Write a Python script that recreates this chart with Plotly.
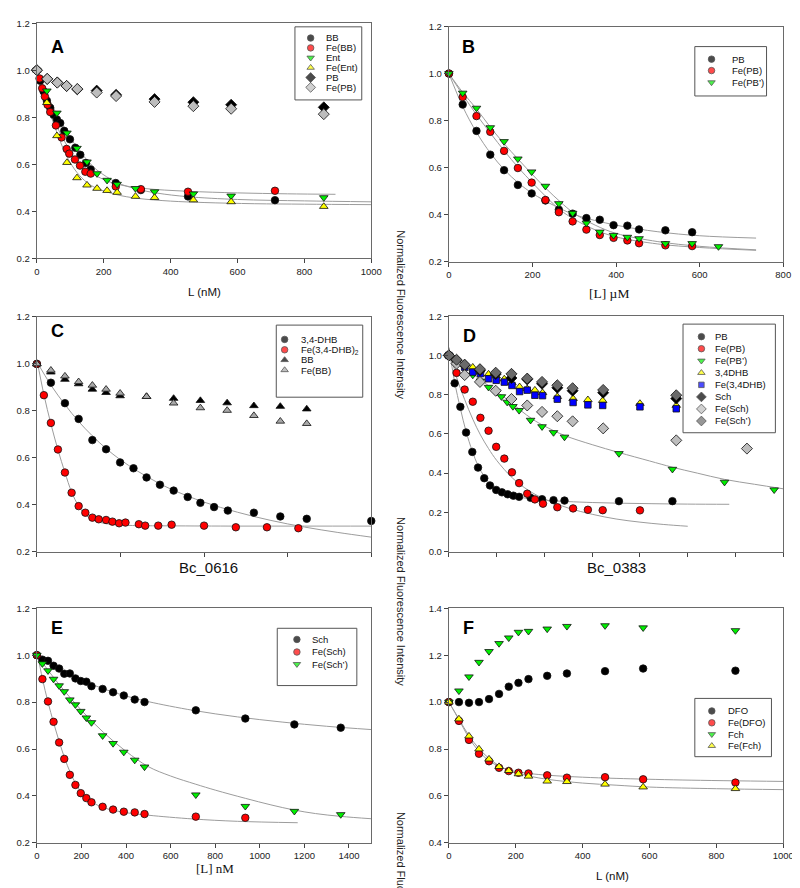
import plotly.graph_objects as go

W, H = 800, 888

# ---------------- Panel A ----------------
a_x_bb = [0, 10, 20, 30, 40, 50, 60, 70, 82, 99, 115, 130, 147, 161, 236, 311, 452, 712]
a_y_bb = [1.0, 0.955, 0.91, 0.87, 0.84, 0.81, 0.79, 0.775, 0.742, 0.706, 0.67, 0.64, 0.605, 0.578, 0.52, 0.49, 0.463, 0.447]
a_x_febb = [0, 8, 16, 24, 32, 40, 57, 74, 89, 97, 114, 129, 145, 161, 236, 311, 452, 712]
a_y_febb = [1.0, 0.965, 0.923, 0.888, 0.853, 0.822, 0.765, 0.714, 0.665, 0.645, 0.62, 0.594, 0.568, 0.56, 0.505, 0.494, 0.483, 0.487]
a_x_ent = [0, 30, 60, 90, 120, 150, 180, 210, 240, 295, 352, 468, 581, 858]
a_y_ent = [1.0, 0.912, 0.818, 0.733, 0.668, 0.61, 0.56, 0.532, 0.515, 0.497, 0.483, 0.474, 0.465, 0.458]
a_y_feent = [1.0, 0.862, 0.721, 0.607, 0.542, 0.511, 0.497, 0.488, 0.48, 0.463, 0.458, 0.448, 0.44, 0.42]
a_x_pb = [0, 31, 61, 89, 121, 179, 237, 352, 468, 581, 858]
a_y_pb = [1.0, 0.963, 0.948, 0.933, 0.919, 0.913, 0.895, 0.877, 0.864, 0.853, 0.842]
a_y_fepb = [1.0, 0.963, 0.947, 0.933, 0.92, 0.905, 0.89, 0.865, 0.847, 0.836, 0.813]

a_fit1_x = [0, 20, 40, 60, 80, 100, 120, 160, 200, 240, 320, 450, 600, 750, 893]
a_fit1_y = [1.0, 0.91, 0.83, 0.76, 0.705, 0.655, 0.615, 0.565, 0.535, 0.515, 0.497, 0.485, 0.478, 0.474, 0.472]
a_fit2_x = [0, 30, 60, 90, 120, 150, 180, 240, 300, 360, 450, 600, 800, 1000]
a_fit2_y = [1.0, 0.9, 0.81, 0.735, 0.672, 0.618, 0.575, 0.522, 0.494, 0.477, 0.462, 0.45, 0.444, 0.44]
a_fit3_x = [0, 30, 60, 90, 120, 150, 180, 240, 300, 400, 500, 650, 800, 1000]
a_fit3_y = [1.0, 0.86, 0.735, 0.632, 0.565, 0.522, 0.497, 0.47, 0.455, 0.443, 0.437, 0.432, 0.43, 0.428]

# ---------------- Panel B ----------------
b_x = [0, 33, 66, 99, 132, 165, 198, 231, 263, 296, 329, 361, 394, 427, 455, 518, 582]
b_y_pb = [1.0, 0.868, 0.756, 0.655, 0.589, 0.526, 0.49, 0.46, 0.421, 0.404, 0.385, 0.378, 0.355, 0.353, 0.337, 0.333, 0.325]
b_y_fepb = [1.0, 0.9, 0.819, 0.752, 0.671, 0.598, 0.536, 0.462, 0.41, 0.371, 0.336, 0.313, 0.301, 0.29, 0.278, 0.269, 0.266]
b_x_fepb2 = [0, 33, 66, 99, 132, 165, 198, 231, 263, 296, 329, 361, 394, 427, 455, 518, 582, 645]
b_y_fepb2 = [1.0, 0.917, 0.853, 0.77, 0.711, 0.637, 0.582, 0.521, 0.447, 0.406, 0.364, 0.326, 0.312, 0.304, 0.298, 0.277, 0.277, 0.264]

b_fit_pb_x = [0, 33, 66, 100, 133, 166, 200, 250, 300, 400, 500, 600, 735]
b_fit_pb_y = [1.0, 0.86, 0.75, 0.66, 0.59, 0.535, 0.49, 0.44, 0.4, 0.355, 0.327, 0.31, 0.3]
b_fit_fepb_x = [0, 33, 66, 100, 133, 166, 200, 233, 266, 300, 350, 400, 500, 600, 735]
b_fit_fepb_y = [1.0, 0.91, 0.825, 0.745, 0.67, 0.6, 0.535, 0.475, 0.42, 0.38, 0.335, 0.305, 0.275, 0.26, 0.248]
b_fit_fepb2_x = [0, 33, 66, 100, 133, 166, 200, 233, 266, 300, 350, 400, 500, 600, 735]
b_fit_fepb2_y = [1.0, 0.92, 0.85, 0.77, 0.7, 0.635, 0.57, 0.51, 0.455, 0.405, 0.355, 0.32, 0.285, 0.265, 0.25]

# ---------------- Panel C ----------------
c_x_dhb = [0, 42, 84, 125, 166, 207, 249, 289, 328, 368, 409, 451, 489, 530, 571, 649, 728, 807, 1000]
c_y_dhb = [1.0, 0.92, 0.833, 0.766, 0.676, 0.637, 0.581, 0.556, 0.517, 0.486, 0.461, 0.434, 0.409, 0.391, 0.376, 0.367, 0.351, 0.341, 0.332]
c_x_fedhb = [0, 21, 42, 63, 84, 104, 125, 145, 166, 185, 207, 226, 246, 265, 305, 324, 363, 403, 500, 595, 688, 782]
c_y_fedhb = [1.0, 0.867, 0.749, 0.636, 0.538, 0.452, 0.395, 0.367, 0.346, 0.339, 0.336, 0.329, 0.322, 0.325, 0.318, 0.312, 0.312, 0.316, 0.312, 0.305, 0.305, 0.301]
c_x_bb = [0, 42, 84, 125, 166, 207, 249, 328, 409, 489, 569, 649, 728, 807]
c_y_bb = [1.0, 0.965, 0.934, 0.915, 0.892, 0.878, 0.864, 0.861, 0.853, 0.844, 0.834, 0.822, 0.819, 0.808]
c_y_febb = [1.0, 0.973, 0.948, 0.924, 0.909, 0.892, 0.875, 0.861, 0.833, 0.813, 0.802, 0.78, 0.756, 0.746]

c_fit_dhb_x = [0, 42, 84, 125, 166, 207, 249, 300, 350, 400, 500, 600, 700, 800, 900, 1000]
c_fit_dhb_y = [1.01, 0.91, 0.827, 0.755, 0.694, 0.64, 0.593, 0.545, 0.504, 0.468, 0.412, 0.369, 0.334, 0.306, 0.283, 0.263]
c_fit_fe_x = [0, 21, 42, 63, 84, 104, 125, 145, 166, 200, 250, 300, 400, 600, 800, 1000]
c_fit_fe_y = [1.02, 0.87, 0.745, 0.635, 0.538, 0.455, 0.395, 0.358, 0.338, 0.322, 0.315, 0.312, 0.311, 0.31, 0.31, 0.31]

# ---------------- Panel D ----------------
d_x_pb = [0, 12, 24, 36, 49, 61, 74, 86, 99, 111, 123, 135, 147, 171, 195, 219, 242, 356, 468]
d_y_pb = [1.0, 0.858, 0.738, 0.607, 0.508, 0.428, 0.374, 0.337, 0.314, 0.302, 0.292, 0.285, 0.279, 0.274, 0.267, 0.262, 0.26, 0.257, 0.257]
d_x_fepb = [0, 16, 33, 50, 66, 83, 99, 116, 132, 147, 164, 180, 197, 227, 260, 291, 322, 400]
d_y_fepb = [1.0, 0.911, 0.826, 0.764, 0.682, 0.616, 0.534, 0.474, 0.404, 0.349, 0.295, 0.266, 0.244, 0.226, 0.22, 0.213, 0.211, 0.21]
d_x_fepb2 = [0, 16, 33, 50, 66, 83, 99, 110, 122, 134, 147, 171, 195, 219, 242, 356, 468, 577, 681]
d_y_fepb2 = [1.0, 0.97, 0.945, 0.9, 0.87, 0.838, 0.815, 0.79, 0.762, 0.74, 0.72, 0.67, 0.637, 0.607, 0.584, 0.5, 0.42, 0.354, 0.315]
d_x_dhb = [0, 16, 33, 50, 66, 83, 99, 116, 132, 148, 164, 180, 196, 227, 260, 291, 322, 400, 476]
d_y_dhb = [1.0, 0.975, 0.955, 0.94, 0.925, 0.905, 0.895, 0.88, 0.86, 0.84, 0.83, 0.823, 0.81, 0.79, 0.78, 0.774, 0.77, 0.755, 0.745]
d_y_fedhb = [1.0, 0.97, 0.94, 0.915, 0.907, 0.881, 0.873, 0.864, 0.847, 0.816, 0.823, 0.797, 0.795, 0.777, 0.76, 0.748, 0.745, 0.738, 0.728]
d_x_sch = [0, 16, 33, 65, 98, 131, 164, 195, 227, 259, 323, 476]
d_y_sch = [1.0, 0.975, 0.95, 0.925, 0.905, 0.885, 0.878, 0.856, 0.835, 0.82, 0.81, 0.78]
d_x_fesch = [0, 16, 33, 65, 98, 131, 164, 195, 227, 259, 323, 476, 624]
d_y_fesch = [1.0, 0.958, 0.9, 0.865, 0.82, 0.778, 0.745, 0.712, 0.69, 0.664, 0.628, 0.567, 0.525]
d_y_fesch2 = [1.0, 0.978, 0.953, 0.93, 0.912, 0.906, 0.882, 0.865, 0.848, 0.833, 0.824, 0.797]

d_fit_pb_x = [0, 12, 24, 36, 49, 61, 74, 86, 99, 123, 150, 200, 300, 400, 500, 587]
d_fit_pb_y = [1.04, 0.865, 0.73, 0.612, 0.512, 0.438, 0.383, 0.345, 0.318, 0.29, 0.276, 0.262, 0.25, 0.245, 0.242, 0.241]
d_fit_fepb_x = [0, 16, 33, 50, 66, 83, 100, 133, 166, 200, 250, 300, 350, 400, 450, 500]
d_fit_fepb_y = [1.04, 0.89, 0.775, 0.675, 0.595, 0.525, 0.465, 0.375, 0.313, 0.268, 0.222, 0.19, 0.166, 0.15, 0.138, 0.129]
d_fit_fepb2_x = [0, 25, 50, 75, 100, 125, 150, 175, 200, 242, 300, 356, 420, 468, 520, 577, 640, 700]
d_fit_fepb2_y = [1.0, 0.955, 0.905, 0.86, 0.815, 0.77, 0.72, 0.675, 0.64, 0.592, 0.545, 0.505, 0.462, 0.43, 0.4, 0.368, 0.343, 0.32]

# ---------------- Panel E ----------------
e_x = [0, 25, 50, 75, 100, 123, 148, 173, 197, 222, 245, 295, 342, 390, 439, 483, 713, 935, 1155, 1363]
e_y_sch = [1.0, 0.981, 0.976, 0.955, 0.943, 0.921, 0.922, 0.901, 0.89, 0.887, 0.868, 0.856, 0.842, 0.828, 0.811, 0.8, 0.765, 0.73, 0.705, 0.691]
e_x_fesch = [0, 25, 50, 75, 100, 123, 148, 173, 197, 222, 245, 295, 342, 390, 439, 483, 713, 935]
e_y_fesch = [1.0, 0.898, 0.803, 0.716, 0.628, 0.558, 0.49, 0.447, 0.412, 0.391, 0.373, 0.354, 0.342, 0.333, 0.33, 0.323, 0.312, 0.307]
e_y_fesch2 = [1.0, 0.964, 0.934, 0.898, 0.87, 0.845, 0.81, 0.789, 0.761, 0.733, 0.713, 0.657, 0.624, 0.587, 0.553, 0.524, 0.405, 0.356, 0.335, 0.321]

e_fit_sch_x = [0, 100, 200, 300, 400, 500, 700, 900, 1100, 1300, 1500]
e_fit_sch_y = [1.01, 0.945, 0.895, 0.856, 0.826, 0.802, 0.765, 0.737, 0.715, 0.697, 0.683]
e_fit_fesch_x = [0, 25, 50, 75, 100, 125, 150, 175, 200, 250, 300, 400, 500, 700, 900, 1170]
e_fit_fesch_y = [1.02, 0.9, 0.8, 0.713, 0.633, 0.56, 0.5, 0.452, 0.416, 0.373, 0.35, 0.329, 0.318, 0.302, 0.292, 0.286]
e_fit_fesch2_x = [0, 100, 200, 300, 400, 500, 600, 713, 800, 935, 1050, 1155, 1250, 1363, 1500]
e_fit_fesch2_y = [1.0, 0.875, 0.765, 0.67, 0.59, 0.525, 0.485, 0.45, 0.425, 0.39, 0.362, 0.34, 0.325, 0.313, 0.303]

# ---------------- Panel F ----------------
f_x = [0, 30, 60, 90, 120, 150, 179, 208, 238, 294, 353, 467, 581, 857]
f_y_dfo = [1.0, 1.0, 0.997, 1.0, 1.013, 1.035, 1.066, 1.082, 1.098, 1.112, 1.122, 1.132, 1.143, 1.134]
f_y_fedfo = [1.0, 0.92, 0.839, 0.78, 0.748, 0.72, 0.706, 0.699, 0.696, 0.688, 0.678, 0.68, 0.671, 0.657]
f_y_fch = [1.0, 1.048, 1.108, 1.17, 1.216, 1.25, 1.274, 1.298, 1.302, 1.312, 1.323, 1.326, 1.317, 1.305]
f_y_fefch = [1.0, 0.928, 0.855, 0.8, 0.757, 0.725, 0.708, 0.694, 0.684, 0.663, 0.661, 0.65, 0.638, 0.631]

f_fit_fedfo_x = [0, 30, 60, 90, 120, 150, 180, 240, 300, 400, 500, 700, 1000]
f_fit_fedfo_y = [1.0, 0.925, 0.848, 0.79, 0.75, 0.726, 0.711, 0.696, 0.688, 0.68, 0.675, 0.668, 0.662]
f_fit_fefch_x = [0, 30, 60, 90, 120, 150, 180, 240, 300, 400, 500, 600, 800, 1000]
f_fit_fefch_y = [1.0, 0.928, 0.857, 0.802, 0.76, 0.729, 0.708, 0.685, 0.67, 0.655, 0.646, 0.638, 0.631, 0.627]

# styles
BLACK, RED, GREEN, YELLOW = "#000000", "#ff0000", "#00f000", "#ffff00"
LGRAY, DGRAY, MGRAY, BLUE = "#bdbdbd", "#6a6a6a", "#a8a8a8", "#0000ff"
FIT = "#9c9c9c"
SANS = "Liberation Sans, Arial, sans-serif"
SERIF = "Liberation Serif, Times New Roman, serif"

SYM = {"o": ("circle", 7.5), "v": ("triangle-down", 7.5), "^": ("triangle-up", 7.5),
       "d": ("diamond", 8.5), "s": ("square", 6.5)}

# panel boxes in pixels: x0, x1, y0 (top), y1 (bottom)
boxes = {
    1: (26.3, 366.7, 9.3, 247.3),
    2: (445.7, 786.0, 12.7, 250.7),
    3: (26.3, 366.7, 306.7, 544.7),
    4: (445.7, 786.0, 306.0, 544.3),
    5: (26.3, 366.7, 601.7, 839.3),
    6: (445.7, 786.0, 601.7, 839.3),
}

fig = go.Figure()


def ax(n):
    return ("x" if n == 1 else f"x{n}"), ("y" if n == 1 else f"y{n}")


def fit(n, xs, ys):
    xa, ya = ax(n)
    fig.add_trace(go.Scatter(x=xs, y=ys, mode="lines", xaxis=xa, yaxis=ya,
                             line=dict(color=FIT, width=1, shape="spline"),
                             showlegend=False, hoverinfo="skip"))


def pts(n, xs, ys, sym, color):
    xa, ya = ax(n)
    s, size = SYM[sym]
    fig.add_trace(go.Scatter(x=xs, y=ys, mode="markers", xaxis=xa, yaxis=ya,
                             marker=dict(symbol=s, size=size, color=color,
                                         line=dict(color="#111", width=0.8)),
                             showlegend=False, cliponaxis=False))


# A
fit(1, a_fit1_x, a_fit1_y)
fit(1, a_fit2_x, a_fit2_y)
fit(1, a_fit3_x, a_fit3_y)
pts(1, a_x_bb, a_y_bb, "o", BLACK)
pts(1, a_x_febb, a_y_febb, "o", RED)
pts(1, a_x_ent, a_y_ent, "v", GREEN)
pts(1, a_x_ent, a_y_feent, "^", YELLOW)
pts(1, a_x_pb, a_y_pb, "d", BLACK)
pts(1, a_x_pb, a_y_fepb, "d", LGRAY)
# B
fit(2, b_fit_pb_x, b_fit_pb_y)
fit(2, b_fit_fepb_x, b_fit_fepb_y)
fit(2, b_fit_fepb2_x, b_fit_fepb2_y)
pts(2, b_x, b_y_pb, "o", BLACK)
pts(2, b_x, b_y_fepb, "o", RED)
pts(2, b_x_fepb2, b_y_fepb2, "v", GREEN)
# C
fit(3, c_fit_dhb_x, c_fit_dhb_y)
fit(3, c_fit_fe_x, c_fit_fe_y)
pts(3, c_x_dhb, c_y_dhb, "o", BLACK)
pts(3, c_x_fedhb, c_y_fedhb, "o", RED)
pts(3, c_x_bb, c_y_bb, "^", BLACK)
pts(3, c_x_bb, c_y_febb, "^", MGRAY)
# D
fit(4, d_fit_pb_x, d_fit_pb_y)
fit(4, d_fit_fepb_x, d_fit_fepb_y)
fit(4, d_fit_fepb2_x, d_fit_fepb2_y)
pts(4, d_x_pb, d_y_pb, "o", BLACK)
pts(4, d_x_fepb, d_y_fepb, "o", RED)
pts(4, d_x_fepb2, d_y_fepb2, "v", GREEN)
pts(4, d_x_dhb, d_y_dhb, "^", YELLOW)
pts(4, d_x_dhb, d_y_fedhb, "s", BLUE)
pts(4, d_x_sch, d_y_sch, "d", BLACK)
pts(4, d_x_fesch, d_y_fesch, "d", LGRAY)
pts(4, d_x_sch, d_y_fesch2, "d", DGRAY)
# E
fit(5, e_fit_sch_x, e_fit_sch_y)
fit(5, e_fit_fesch_x, e_fit_fesch_y)
fit(5, e_fit_fesch2_x, e_fit_fesch2_y)
pts(5, e_x, e_y_sch, "o", BLACK)
pts(5, e_x_fesch, e_y_fesch, "o", RED)
pts(5, e_x, e_y_fesch2, "v", GREEN)
# F
fit(6, f_fit_fedfo_x, f_fit_fedfo_y)
fit(6, f_fit_fefch_x, f_fit_fefch_y)
pts(6, f_x, f_y_dfo, "o", BLACK)
pts(6, f_x, f_y_fedfo, "o", RED)
pts(6, f_x, f_y_fch, "v", GREEN)
pts(6, f_x, f_y_fefch, "^", YELLOW)

# axes
axis_cfg = {
    1: ([0, 1000], list(range(0, 1001, 200)), True, [0.2, 1.2], [0.2, 0.4, 0.6, 0.8, 1.0, 1.2]),
    2: ([0, 800], list(range(0, 801, 200)), True, [0.2, 1.2], [0.2, 0.4, 0.6, 0.8, 1.0, 1.2]),
    3: ([0, 1000], list(range(0, 1001, 250)), False, [0.2, 1.2], [0.2, 0.4, 0.6, 0.8, 1.0, 1.2]),
    4: ([0, 700], list(range(0, 701, 100)), False, [0.0, 1.2], [0.0, 0.2, 0.4, 0.6, 0.8, 1.0, 1.2]),
    5: ([0, 1500], list(range(0, 1401, 200)), True, [0.2, 1.2], [0.2, 0.4, 0.6, 0.8, 1.0, 1.2]),
    6: ([0, 1000], list(range(0, 1001, 200)), True, [0.4, 1.4], [0.4, 0.6, 0.8, 1.0, 1.2, 1.4]),
}
common = dict(showgrid=False, zeroline=False, showline=True, mirror=True,
              linecolor="#6a6a6a", linewidth=1.2, ticks="outside", ticklen=4,
              tickcolor="#444", tickwidth=1,
              tickfont=dict(family=SANS, size=9.5, color="#222"))
layout_axes = {}
for n, (xr, xt, xl, yr, yt) in axis_cfg.items():
    x0, x1, yt0, yb1 = boxes[n]
    xa, ya = ax(n)
    xkey = "xaxis" if n == 1 else f"xaxis{n}"
    ykey = "yaxis" if n == 1 else f"yaxis{n}"
    layout_axes[xkey] = dict(domain=[x0 / W, x1 / W], range=xr, tickvals=xt,
                             showticklabels=xl, anchor=ya, **common)
    layout_axes[ykey] = dict(domain=[1 - yb1 / H, 1 - yt0 / H], range=yr, tickvals=yt,
                             tickformat=".1f", anchor=xa, **common)

# overlay axis in pixel units for hand-drawn legends
layout_axes["xaxis7"] = dict(domain=[0, 1], range=[0, W], visible=False, anchor="y7")
layout_axes["yaxis7"] = dict(domain=[0, 1], range=[H, 0], visible=False, anchor="x7")

legends = [
    ((289, 13, 357, 87), 305, 319, [24.3, 34.3, 44.3, 54.3, 64.3, 74.3],
     [("BB", "o", BLACK), ("Fe(BB)", "o", RED), ("Ent", "v", GREEN),
      ("Fe(Ent)", "^", YELLOW), ("PB", "d", BLACK), ("Fe(PB)", "d", LGRAY)]),
    ((696, 33, 769, 83), 713, 732, [45.7, 57.3, 69.3],
     [("PB", "o", BLACK), ("Fe(PB)", "o", RED), ("Fe(PB’)", "v", GREEN)]),
    ((270, 315, 358, 388), 278.5, 293, [329.5, 340, 350.3, 360.5],
     [("3,4-DHB", "o", BLACK), ("Fe(3,4-DHB)<sub>2</sub>", "o", RED),
      ("BB", "^", BLACK), ("Fe(BB)", "^", MGRAY)]),
    ((684, 314, 778, 424), 702.7, 715, [326.7, 338.9, 351.1, 363.3, 375.5, 387.7, 399.9, 412.1],
     [("PB", "o", BLACK), ("Fe(PB)", "o", RED), ("Fe(PB’)", "v", GREEN),
      ("3,4DHB", "^", YELLOW), ("Fe(3,4DHB)", "s", BLUE), ("Sch", "d", BLACK),
      ("Fe(Sch)", "d", LGRAY), ("Fe(Sch’)", "d", DGRAY)]),
    ((271, 622, 352, 680), 291, 304, [633.3, 646, 658.3],
     [("Sch", "o", BLACK), ("Fe(Sch)", "o", RED), ("Fe(Sch’)", "v", GREEN)]),
    ((696, 693, 774, 752), 713.3, 728, [705.7, 717.7, 729.3, 741],
     [("DFO", "o", BLACK), ("Fe(DFO)", "o", RED), ("Fch", "v", GREEN), ("Fe(Fch)", "^", YELLOW)]),
]

shapes, annotations = [], []
for (bx0, by0, bx1, by1), mx, tx, rows, entries in legends:
    shapes.append(dict(type="rect", xref="paper", yref="paper",
                       x0=bx0 / W, x1=bx1 / W, y0=1 - by1 / H, y1=1 - by0 / H,
                       line=dict(color="#555", width=1), fillcolor="white", layer="below"))
    fig.add_trace(go.Scatter(
        x=[mx] * len(entries), y=rows, mode="markers", xaxis="x7", yaxis="y7",
        marker=dict(symbol=[SYM[e[1]][0] for e in entries],
                    size=[SYM[e[1]][1] - 1 for e in entries],
                    color=[e[2] for e in entries], line=dict(color="#111", width=0.8)),
        showlegend=False, cliponaxis=False, hoverinfo="skip"))
    for (name, _, _), ry in zip(entries, rows):
        annotations.append(dict(text=name, x=tx / W, y=1 - ry / H, xref="paper", yref="paper",
                                xanchor="left", yanchor="middle", showarrow=False,
                                font=dict(family=SANS, size=9.5, color="#111")))

# panel letters
for letter, (lx, ly) in zip("ABCDEF", [(47.5, 33), (466, 33), (47, 321), (467, 326), (46.7, 621.7), (465.8, 621.7)]):
    annotations.append(dict(text=f"<b>{letter}</b>", x=lx / W, y=1 - ly / H, xref="paper", yref="paper",
                            xanchor="center", yanchor="middle", showarrow=False,
                            font=dict(family=SANS, size=18, color="#000")))

# axis titles
x_titles = [
    ("L (nM)", 197, 281, SANS, 11.5),
    ("[L] µM", 609, 283, SERIF, 13.5),
    ("Bc_0616", 201, 560, SANS, 15),
    ("Bc_0383", 616, 560, SANS, 15),
    ("[L] nM", 208, 865, SERIF, 13),
    ("L (nM)", 612, 873, SANS, 11.5),
]
for text, cx, cy, fam, sz in x_titles:
    annotations.append(dict(text=text, x=cx / W, y=1 - cy / H, xref="paper", yref="paper",
                            xanchor="center", yanchor="middle", showarrow=False,
                            font=dict(family=fam, size=sz, color="#111")))

# shared y title, repeated down the middle column (last copy runs off the bottom)
for cy in [304, 594.5, 893]:
    annotations.append(dict(text="Normalized Fluorescence Intensity", x=397 / W, y=1 - cy / H,
                            xref="paper", yref="paper", xanchor="center", yanchor="middle",
                            textangle=90, showarrow=False,
                            font=dict(family=SANS, size=11, color="#222")))

fig.update_layout(
    width=W, height=H, margin=dict(l=0, r=0, t=0, b=0),
    paper_bgcolor="white", plot_bgcolor="rgba(0,0,0,0)",
    shapes=shapes, annotations=annotations, showlegend=False,
    **layout_axes,
)

fig.write_html("out.html")
